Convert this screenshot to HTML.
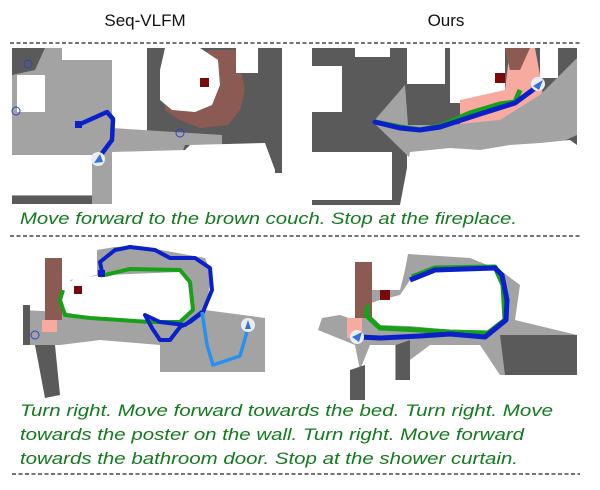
<!DOCTYPE html>
<html><head><meta charset="utf-8"><style>
html,body{margin:0;padding:0;background:#fff;}
svg{display:block;}
text{font-family:"Liberation Sans",sans-serif;}
.cap{fill:#137a1e;font-style:italic;font-size:17px;}
</style></head><body>
<svg width="600" height="490" viewBox="0 0 600 490" xmlns="http://www.w3.org/2000/svg">
<text x="145" y="26" font-size="17" text-anchor="middle" fill="#111">Seq-VLFM</text>
<text x="446" y="26" font-size="17" text-anchor="middle" fill="#111">Ours</text>
<line x1="10" y1="43" x2="580" y2="43" stroke="#222" stroke-width="1.3" stroke-dasharray="4,2.5"/>
<line x1="10" y1="236" x2="580" y2="236" stroke="#222" stroke-width="1.3" stroke-dasharray="4,2.5"/>
<line x1="12" y1="474" x2="580" y2="474" stroke="#222" stroke-width="1.3" stroke-dasharray="4,2.5"/>

<!-- Panel 1 -->
<rect x="12" y="48" width="100" height="156" fill="#a3a3a3"/>
<polygon points="12,48 45,48 35,70 12,75" fill="#5a5a5a"/>
<rect x="17" y="75" width="28" height="37" fill="#fff"/>
<rect x="62" y="48" width="50" height="12" fill="#fff"/>
<rect x="112" y="48" width="35" height="82" fill="#fff"/>
<rect x="147" y="48" width="135" height="125" fill="#5a5a5a"/>
<polygon points="210,50 238,50 242,75 245,90 240,110 228,125 200,128 180,120 165,110 163,75" fill="#8b5a52"/>
<polygon points="165,48 200,48 218,60 220,85 212,105 195,112 172,110 160,100 160,70" fill="#fff"/>
<rect x="236" y="48" width="22" height="25" fill="#fff"/>
<rect x="200" y="78" width="9" height="9" fill="#7a0a0a"/>
<polygon points="112,128 222,135 222,145 185,145 180,158 112,160" fill="#a3a3a3"/>
<polygon points="112,152 185,150 190,145 265,143 275,170 275,190 112,190" fill="#fff"/>
<rect x="12" y="155" width="80" height="40" fill="#fff"/>
<rect x="12" y="196" width="80" height="8" fill="#5a5a5a"/>
<rect x="92" y="158" width="20" height="46" fill="#a3a3a3"/>
<circle cx="28" cy="64" r="4" fill="none" stroke="#3040c0" stroke-width="1"/>
<circle cx="16" cy="111" r="4" fill="none" stroke="#3040c0" stroke-width="1"/>
<circle cx="180" cy="133" r="4" fill="none" stroke="#3040c0" stroke-width="1"/>
<polyline points="78,125 107,112 113,119 112,140 100,156" fill="none" stroke="#0a20c8" stroke-width="4.5" stroke-linejoin="round"/>
<rect x="75" y="121" width="7" height="7" fill="#0a20c8"/>
<circle cx="98" cy="159" r="7" fill="#e8eef8"/>
<polygon points="94,163 100,154 103,162" fill="#3a70d0"/>

<!-- Panel 2 -->
<rect x="312" y="48" width="95" height="157" fill="#5a5a5a"/>
<rect x="312" y="66" width="30" height="46" fill="#fff"/>
<rect x="355" y="48" width="35" height="9" fill="#fff"/>
<rect x="312" y="152" width="80" height="48" fill="#fff"/>
<rect x="407" y="48" width="170" height="100" fill="#5a5a5a"/>
<rect x="407" y="48" width="38" height="36" fill="#fff"/>
<rect x="450" y="48" width="55" height="55" fill="#fff"/>
<rect x="540" y="48" width="18" height="30" fill="#fff"/>
<polygon points="460,100 505,90 510,48 535,48 540,75 545,110 530,125 470,130 460,130" fill="#f6aaa0"/>
<polygon points="505,48 530,48 520,70 510,70" fill="#8b5a52"/>
<polygon points="373,122 405,85 408,125 450,125 500,120 540,95 577,58 577,135 555,145 520,150 480,150 440,152 410,158" fill="#a3a3a3"/>
<rect x="495" y="73" width="10" height="10" fill="#7a0a0a"/>
<polygon points="410,152 450,148 480,150 510,145 540,143 570,140 577,145 577,205 400,205" fill="#fff"/>
<polyline points="375,122 400,127 420,130 440,126 470,113 500,104 515,102 520,90" fill="none" stroke="#18a018" stroke-width="5"/>
<polyline points="375,122 400,128 420,130 440,127 480,114 515,103 538,86" fill="none" stroke="#0a20c8" stroke-width="5" stroke-linecap="round"/>
<circle cx="538" cy="84" r="7" fill="#e8eef8"/>
<polygon points="533,86 543,80 539,90" fill="#3a70d0"/>

<!-- Panel 3 -->
<polygon points="97,250 115,247 150,248 205,258 212,275 205,310 265,318 265,372 160,372 160,345 100,340 60,345 23,345 23,310 60,312 97,315 80,300 70,280 97,275" fill="#a3a3a3"/>
<polygon points="105,275 180,272 190,285 192,310 180,322 150,322 90,318 65,312 62,288 75,278" fill="#fff"/>
<rect x="45" y="258" width="17" height="62" fill="#8b5a52"/>
<rect x="42" y="320" width="15" height="12" fill="#f6aaa0"/>
<polygon points="35,345 55,345 60,395 45,398" fill="#5a5a5a"/>
<polygon points="23,305 30,305 30,345 23,345" fill="#5a5a5a"/>
<rect x="74" y="286" width="8" height="8" fill="#7a0a0a"/>
<polyline points="105,275 130,269 180,270 190,282 193,310 180,322 150,322 90,318 65,315 60,300 63,290" fill="none" stroke="#18a018" stroke-width="4" stroke-linejoin="round"/>
<polyline points="103,277 100,262 115,250 130,247 155,250 170,258 195,258 210,268 212,290 203,312 190,322 180,327 170,340 160,340 152,328 145,315 160,322 185,325 202,312" fill="none" stroke="#0a20c8" stroke-width="4" stroke-linejoin="round"/>
<rect x="98" y="270" width="7" height="7" fill="#0a20c8"/>
<polyline points="202,312 207,345 213,365 240,356 248,328" fill="none" stroke="#2a90f0" stroke-width="3.5" stroke-linejoin="round"/>
<circle cx="248" cy="325" r="7" fill="#e8eef8"/>
<polygon points="245,329 248,320 251,329" fill="#3a70d0"/>
<circle cx="35" cy="335" r="4" fill="none" stroke="#3040c0" stroke-width="1"/>

<!-- Panel 4 -->
<polygon points="408,254 470,258 500,270 520,285 515,320 577,335 577,375 500,375 480,345 430,345 410,360 410,380 395,380 395,345 370,345 360,370 355,345 318,330 322,318 340,315 355,320 360,290 400,290 405,270" fill="#a3a3a3"/>
<polygon points="410,280 440,268 495,268 503,285 503,322 488,332 450,330 410,326 375,325 365,305 380,300 400,295" fill="#fff"/>
<rect x="355" y="262" width="17" height="56" fill="#8b5a52"/>
<rect x="347" y="318" width="15" height="20" fill="#f6aaa0"/>
<rect x="380" y="290" width="10" height="10" fill="#7a0a0a"/>
<polygon points="500,335 577,335 577,375 505,375" fill="#5a5a5a"/>
<polygon points="350,370 365,365 365,400 350,400" fill="#5a5a5a"/>
<polygon points="396,345 410,340 410,380 396,380" fill="#5a5a5a"/>
<polyline points="412,277 435,268 495,267 503,285 505,320 488,333 450,332 420,330 380,328 366,315 368,305" fill="none" stroke="#18a018" stroke-width="5" stroke-linejoin="round"/>
<polyline points="410,280 435,270 495,268 502,275 507,300 506,320 485,337 450,334 420,336 380,338 360,337" fill="none" stroke="#0a20c8" stroke-width="5" stroke-linejoin="round"/>
<circle cx="357" cy="337" r="7" fill="#e8eef8"/>
<polygon points="352,337 362,332 359,342" fill="#3a70d0"/>

<text class="cap" x="20" y="224" textLength="497" lengthAdjust="spacingAndGlyphs">Move forward to the brown couch. Stop at the fireplace.</text>
<text class="cap" x="20" y="416" textLength="533" lengthAdjust="spacingAndGlyphs">Turn right. Move forward towards the bed. Turn right. Move</text>
<text class="cap" x="20" y="440" textLength="504" lengthAdjust="spacingAndGlyphs">towards the poster on the wall. Turn right. Move forward</text>
<text class="cap" x="20" y="464" textLength="498" lengthAdjust="spacingAndGlyphs">towards the bathroom door. Stop at the shower curtain.</text>
</svg>
</body></html>
